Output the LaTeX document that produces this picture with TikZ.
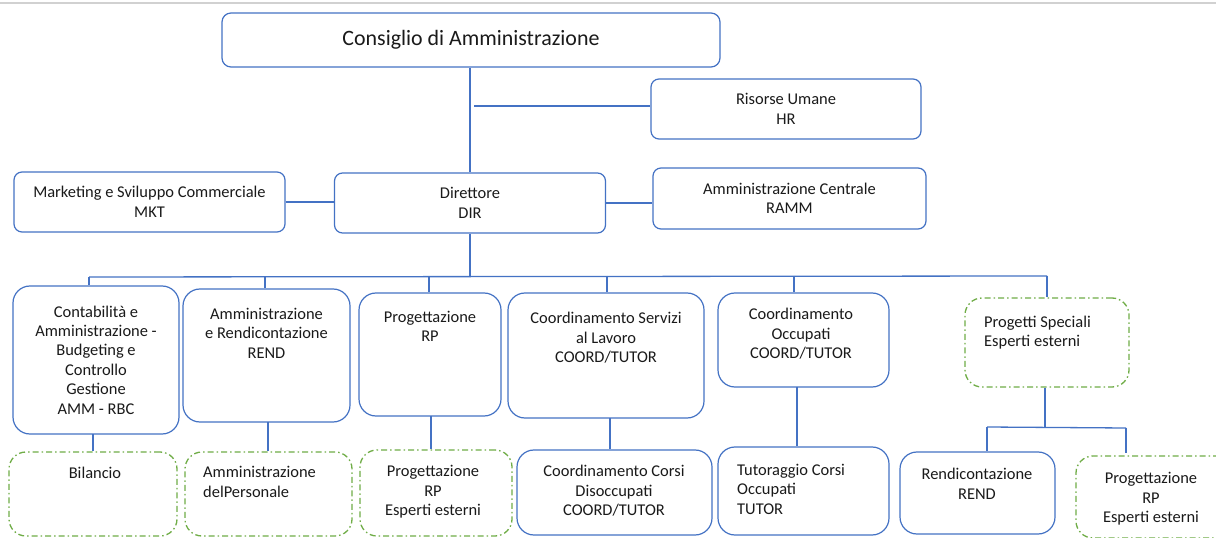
\documentclass[tikz,border=0pt]{standalone}
\usepackage{fontspec}
\setmainfont{Carlito}
\definecolor{bl}{HTML}{4472C4}
\definecolor{gr}{HTML}{70AD47}
\definecolor{tx}{HTML}{1A1A1A}
\begin{document}
\begin{tikzpicture}[x=1bp,y=-1bp,
  bx/.style={draw=bl, line width=1.2bp, rounded corners=#1, inner sep=0pt},
  gbx/.style={draw=gr, line width=1.3bp, rounded corners=#1, inner sep=0pt,
     dash pattern=on 6bp off 3bp on 1.5bp off 3bp},
  txt/.style={font=\fontsize{16.5}{19.5}\selectfont, align=center, inner sep=0pt, text=tx},
  ltxt/.style={font=\fontsize{16.5}{19.5}\selectfont, align=left, inner sep=0pt, text=tx, anchor=west},
  conn/.style={draw=bl, line width=1.3bp}]
\useasboundingbox (0,0) rectangle (1216,538);
\clip (0,0) rectangle (1216,538);
\fill[white] (0,0) rectangle (1216,538);
\coordinate (gl) at (0,3); \coordinate (gr) at (1216,3);
\draw[black!18, line width=1.5bp] (gl) -- (gr);

% top level
\node[bx=9bp, minimum width=498bp, minimum height=54bp, txt, font=\fontsize{22}{26}\selectfont] (cda) at (471,40) {Consiglio di Amministrazione};
\node[bx=8bp, minimum width=270bp, minimum height=60bp, txt] (hr) at (786,109) {Risorse Umane\\HR};
\node[bx=8bp, minimum width=271bp, minimum height=60bp, txt] (dir) at (470,203) {Direttore\\DIR};
\node[bx=8bp, minimum width=271bp, minimum height=60bp, txt] (mkt) at (149.5,202) {Marketing e Sviluppo Commerciale\\MKT};
\node[bx=8bp, minimum width=273bp, minimum height=61bp, txt] (ramm) at (789.5,198.5) {Amministrazione Centrale\\RAMM};

\draw[conn] (cda.south -| dir.north) -- (dir.north);
\coordinate (hrj) at (474,106);
\draw[conn] (hrj) -- (hrj -| hr.west);
\draw[conn] (mkt.east) -- (mkt.east -| dir.west);
\draw[conn] (dir.east) -- (dir.east -| ramm.west);

% second level boxes
\node[bx=17bp, minimum width=166bp, minimum height=148bp, txt] (b1) at (96,360) {Contabilità e\\Amministrazione -\\Budgeting e\\Controllo\\Gestione\\AMM - RBC};
\node[bx=17bp, minimum width=167bp, minimum height=133bp] (b2) at (266.5,355.5) {};
\node[txt] (b2t) at (266.5,333) {Amministrazione\\e Rendicontazione\\REND};
\node[bx=17bp, minimum width=142bp, minimum height=123bp] (b3) at (430,354.5) {};
\node[txt] (b3t) at (430,326.5) {Progettazione\\RP};
\node[bx=17bp, minimum width=196bp, minimum height=125bp] (b4) at (606,355.5) {};
\node[txt] (b4t) at (606,338) {Coordinamento Servizi\\al Lavoro\\COORD/TUTOR};
\node[bx=17bp, minimum width=171bp, minimum height=94bp] (b5) at (803.5,340) {};
\node[txt] (b5t) at (801,334) {Coordinamento\\Occupati\\COORD/TUTOR};
\node[gbx=17bp, minimum width=164bp, minimum height=89bp] (ps) at (1047,342.5) {};
\node[ltxt] (pst) at (984,332.5) {Progetti Speciali\\Esperti esterni};

% bus
\coordinate (busL) at (89,277);
\coordinate (busR) at (1047,276);
\draw[conn] (busL) -- (busR);
\draw[conn] (dir.south) -- (dir.south |- busR);
\draw[conn] (busL) -- (busL |- b1.north);
\coordinate (d2) at (265,277); \draw[conn] (d2) -- (d2 |- b2.north);
\coordinate (d3) at (429,277); \draw[conn] (d3) -- (d3 |- b3.north);
\coordinate (d4) at (607,276); \draw[conn] (d4) -- (d4 |- b4.north);
\coordinate (d5) at (794,276); \draw[conn] (d5) -- (d5 |- b5.north);
\draw[conn] (busR) -- (ps.north);

% third level boxes
\node[gbx=17bp, minimum width=168bp, minimum height=84bp] (bil) at (93,494) {};
\node[txt] (bilt) at (95,473) {Bilancio};
\node[gbx=17bp, minimum width=167bp, minimum height=84bp] (pers) at (268.5,494) {};
\node[ltxt] (perst) at (203,482) {Amministrazione\\delPersonale};
\node[gbx=17bp, minimum width=152bp, minimum height=86bp] (prp) at (436,493) {};
\node[txt] (prpt) at (433,492) {Progettazione\\RP\\Esperti esterni};
\node[bx=17bp, minimum width=195bp, minimum height=85bp] (cc) at (614.5,492.5) {};
\node[txt] (cct) at (614,491) {Coordinamento Corsi\\Disoccupati\\COORD/TUTOR};
\node[bx=17bp, minimum width=171bp, minimum height=88bp] (tut) at (803.5,491) {};
\node[ltxt] (tutt) at (737,489) {Tutoraggio Corsi\\Occupati\\TUTOR};
\node[bx=17bp, minimum width=155bp, minimum height=82bp] (rend) at (977.5,493) {};
\node[txt] (rendt) at (977,484) {Rendicontazione\\REND};
\node[gbx=17bp, minimum width=160bp, minimum height=82bp] (prp2) at (1156,497) {};
\node[txt] (prp2t) at (1151,499) {Progettazione\\RP\\Esperti esterni};

\coordinate (c1) at (93,434); \draw[conn] (c1) -- (c1 |- bil.north);
\coordinate (c2) at (268,422); \draw[conn] (c2) -- (c2 |- pers.north);
\coordinate (c3) at (431,416); \draw[conn] (c3) -- (c3 |- prp.north);
\coordinate (c4) at (610,418); \draw[conn] (c4) -- (c4 |- cc.north);
\coordinate (c5) at (797,387); \draw[conn] (c5) -- (c5 |- tut.north);

\coordinate (pj) at (1045,427);
\coordinate (pjl) at (987,427);
\coordinate (pjr) at (1126,428);
\coordinate (pjend) at (1126,453);
\draw[conn] (ps.south -| pj) -- (pj);
\draw[conn] (pjl) -- (pjr);
\draw[conn] (pjl) -- (pjl |- rend.north);
\draw[conn] (pjr) -- (pjend);
\end{tikzpicture}
\end{document}
